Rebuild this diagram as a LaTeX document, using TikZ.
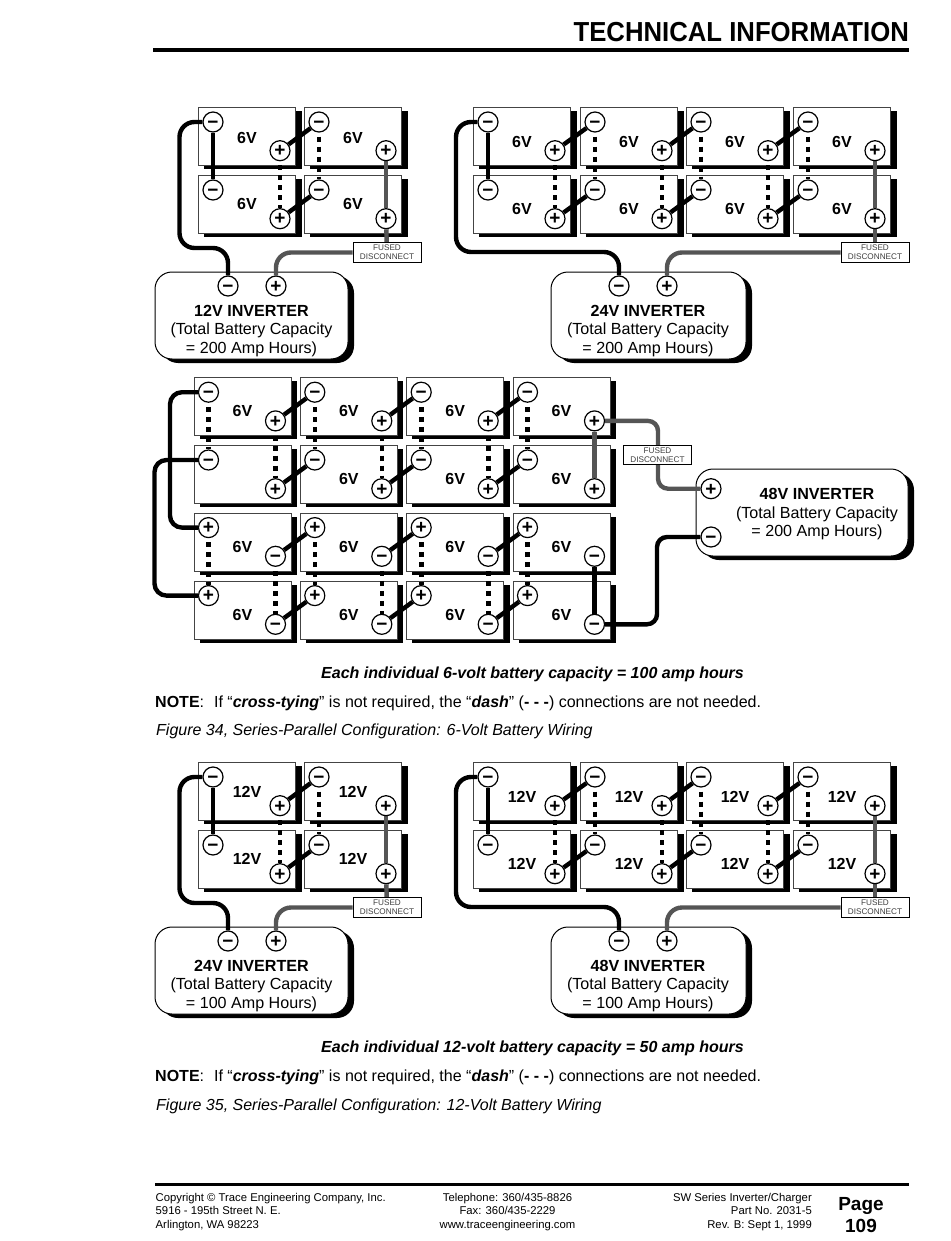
\documentclass[tikz,border=0pt]{standalone}
\usepackage{fontspec}
\setmainfont{Liberation Sans}
\newfontfamily\titlefont[FakeStretch=0.935]{Liberation Sans}
\pgfdeclarelayer{bg}\pgfdeclarelayer{wire}\pgfsetlayers{bg,wire,main}
\definecolor{wiregrey}{HTML}{555555}
\definecolor{edgegrey}{HTML}{444444}
\newcommand\fs[2]{\fontsize{#1}{#2}\selectfont}
\newcommand\mn{\textbf{−}}
\newcommand\pl{\textbf{+}}
\tikzset{
 batbox/.style={draw=edgegrey,line width=0.9pt,fill=white,anchor=north west,minimum width=97pt,minimum height=58pt,inner sep=0pt},
 batshadow/.style={fill=black},
 term/.style={circle,draw=black,line width=1.2pt,fill=white,minimum size=20pt,inner sep=0pt,font=\fs{19}{19},text height=12.6pt,text depth=0pt},
 vlabel/.style={font=\fs{16}{18}\bfseries,inner sep=0pt},
 xwire/.style={line width=4.4pt,black,rounded corners=15pt},
 gwire/.style={line width=4.4pt,wiregrey,rounded corners=15pt},
 xlink/.style={line width=4.4pt,black},
 xdots/.style={line width=4.6pt,black,dash pattern=on 5pt off 5pt,dash phase=6pt},
 fused/.style={draw=black,line width=0.9pt,fill=white,minimum width=68pt,minimum height=19.5pt,inner sep=0pt,align=center,font=\fs{8.2}{9.2},text=black!75},
 invbox/.style={draw=black,line width=1pt,fill=white,rounded corners=17pt},
 invshadow/.style={fill=black,rounded corners=17pt},
 invtext/.style={align=center,inner sep=0pt,font=\fs{16.1}{18.5}},
 plain/.style={inner sep=0pt,anchor=base west},
}
% name x y label labeloffset leftsign rightsign
\newcommand\batt[7]{%
 \begin{pgfonlayer}{bg}
  \fill[batshadow] ({#2+6},{#3+4}) rectangle ({#2+103.5},{#3+62});
  \node[batbox] (#1) at ({#2},{#3}) {};
 \end{pgfonlayer}
 \if\relax\detokenize{#4}\relax\else\node[vlabel] (#1-v) at ({#2+49},{#3+#5+0.7}) {#4};\fi
 \node[term] (#1-l) at ({#2+15},{#3+15}) {#6};
 \node[term] (#1-r) at ({#2+82},{#3+43.7}) {#7};
}
% name x1 y1 x2 y2
\newcommand\inv[5]{%
 \begin{pgfonlayer}{bg}
  \fill[invshadow] ({#2+6},{#3+4}) rectangle ({#4+6},{#5+4});
  \draw[invbox] ({#2},{#3}) rectangle ({#4},{#5}) coordinate (#1);
 \end{pgfonlayer}
}
% prefix dy label off1 off2 invname amp
\newcommand\leftbank[7]{%
 \foreach \c/\x in {1/198,2/304}{\foreach \r/\y/\o in {1/107/#4,2/175/#5}{\batt{#1\r\c}{\x}{\y+#2}{#3}{\o}{\mn}{\pl}}}
 \inv{#1box}{155}{272+#2}{348}{359+#2}
 \node[term] (#1im) at (228,{286+#2}) {\mn};
 \node[term] (#1ip) at (276,{286+#2}) {\pl};
 \node[invtext] (#1it) at (251.5,{331+#2}) {\textbf{#6 INVERTER}\\(Total Battery Capacity\\= #7 Amp Hours)};
 \node[fused] (#1fd) at (387,{252.5+#2}) {FUSED\\DISCONNECT};
 \begin{pgfonlayer}{wire}
  \foreach \r in {1,2}{\draw[xlink] (#1\r1-r) -- (#1\r2-l);}
  \draw[xdots] (#112-l) -- (#122-l);
  \draw[xdots] (#111-r) -- (#121-r);
  \draw[xlink] (#111-l) -- (#121-l);
  \draw[gwire] (#112-r) -- (#122-r);
  \draw[gwire] (#122-r) -- (#1fd);
  \draw[xwire] (#111-l) -- (179.5,{122+#2}) -- (179.5,{248+#2}) -- (228,{248+#2}) -- (#1im);
  \draw[gwire] (#1ip) -- (276,{252.5+#2}) -- (#1fd.west);
 \end{pgfonlayer}
}
\newcommand\rightbank[7]{%
 \foreach \c/\x in {1/473,2/580,3/686,4/793}{\foreach \r/\y/\o in {1/107/#4,2/175/#5}{\batt{#1\r\c}{\x}{\y+#2}{#3}{\o}{\mn}{\pl}}}
 \inv{#1box}{551}{272+#2}{746}{359+#2}
 \node[term] (#1im) at (619,{286+#2}) {\mn};
 \node[term] (#1ip) at (667,{286+#2}) {\pl};
 \node[invtext] (#1it) at (648,{331+#2}) {\textbf{#6 INVERTER}\\(Total Battery Capacity\\= #7 Amp Hours)};
 \node[fused] (#1fd) at (875,{252.5+#2}) {FUSED\\DISCONNECT};
 \begin{pgfonlayer}{wire}
  \foreach \r in {1,2}{\foreach \c/\d in {1/2,2/3,3/4}{\draw[xlink] (#1\r\c-r) -- (#1\r\d-l);}}
  \foreach \c in {2,3,4}{\draw[xdots] (#11\c-l) -- (#12\c-l);}
  \foreach \c in {1,2,3}{\draw[xdots] (#11\c-r) -- (#12\c-r);}
  \draw[xlink] (#111-l) -- (#121-l);
  \draw[gwire] (#114-r) -- (#124-r);
  \draw[gwire] (#124-r) -- (#1fd);
  \draw[xwire] (#111-l) -- (456,{122+#2}) -- (456,{252+#2}) -- (619,{252+#2}) -- (#1im);
  \draw[gwire] (#1ip) -- (667,{252.5+#2}) -- (#1fd.west);
 \end{pgfonlayer}
}
\newcommand\notelines[6]{%
 \node[inner sep=0pt,font=\fs{16.03}{18}\bfseries\itshape,anchor=base] (#1a) at (532.5,#2) {Each individual #5-volt battery capacity = #6 amp hours};
 \node[plain,font=\fs{16.03}{18}] (#1b) at (155,#3) {\textbf{NOTE}:\ \ \kern1pt If “\textbf{\textit{cross-tying}}” is not required, the “\textbf{\textit{dash}}” (\textbf{- - -}) connections are not needed.};
 \node[plain,font=\fs{16}{18}\itshape] (#1c) at (156,#4) {Figure #1, Series-Parallel Configuration: #5-Volt Battery Wiring};
}
\begin{document}
\begin{tikzpicture}[x=1pt,y=-1pt]
\useasboundingbox (0,0) rectangle (950,1241);
% header
\node[inner sep=0pt,anchor=base east,font=\fs{27.5}{30}\titlefont\bfseries] (title) at (909,42) {TECHNICAL INFORMATION};
\coordinate (hl) at (153,50.5); \coordinate (hr) at (909,50.5);
\draw[line width=4pt] (hl) -- (hr);
% top banks
\leftbank{a}{0}{6V}{30}{28}{12V}{200}
\rightbank{b}{0}{6V}{34}{33}{24V}{200}
% 48V bank
\foreach \c/\x in {1/193.5,2/299.8,3/406.2,4/512.5}{
 \batt{c1\c}{\x}{377.2}{6V}{33.5}{\mn}{\pl}
 \batt{c3\c}{\x}{512.6}{6V}{33.5}{\pl}{\mn}
 \batt{c4\c}{\x}{580.6}{6V}{33.5}{\pl}{\mn}
}
\foreach \c/\x in {2/299.8,3/406.2,4/512.5}{\batt{c2\c}{\x}{445}{6V}{33.5}{\mn}{\pl}}
\batt{c21}{193.5}{445}{}{0}{\mn}{\pl}
\inv{cbox}{696}{469}{908}{556}
\node[term] (cip) at (711,488.7) {\pl};
\node[term] (cim) at (711,537) {\mn};
\node[invtext] (cit) at (817,514.5) {\textbf{48V INVERTER}\\(Total Battery Capacity\\= 200 Amp Hours)};
\node[fused] (cfd) at (657.5,455) {FUSED\\DISCONNECT};
\begin{pgfonlayer}{wire}
 \foreach \r in {1,2,3,4}{\foreach \c/\d in {1/2,2/3,3/4}{\draw[xlink] (c\r\c-r) -- (c\r\d-l);}}
 \foreach \c in {1,2,3,4}{\draw[xdots] (c1\c-l) -- (c2\c-l); \draw[xdots] (c3\c-l) -- (c4\c-l);}
 \foreach \c in {1,2,3}{\draw[xdots] (c1\c-r) -- (c2\c-r); \draw[xdots] (c3\c-r) -- (c4\c-r);}
 \draw[gwire] (c14-r) -- (c24-r);
 \draw[xlink] (c34-r) -- (c44-r);
 \draw[xwire,rounded corners=12pt] (c11-l) -- (170,392.2) -- (170,527.6) -- (c31-l);
 \draw[xwire,rounded corners=12pt] (c21-l) -- (154.5,460) -- (154.5,595.6) -- (c41-l);
 \draw[gwire,rounded corners=10pt] (c14-r) -- (658,420.9) -- (658,488.7) -- (cip);
 \draw[xwire,rounded corners=10pt] (c44-r) -- (657,624.3) -- (657,537) -- (cim);
\end{pgfonlayer}
\notelines{34}{678.5}{707}{735}{6}{100}
% figure 35
\leftbank{d}{655}{12V}{29}{28}{24V}{100}
\rightbank{e}{655}{12V}{34}{33}{48V}{100}
\notelines{35}{1052.5}{1081}{1110}{12}{50}
% footer
\coordinate (fl) at (155,1184.5); \coordinate (fr) at (909,1184.5);
\draw[line width=2.4pt] (fl) -- (fr);
\node[plain,font=\fs{11.3}{13.5},align=left,anchor=north west] (f1) at (155.5,1193) {Copyright © Trace Engineering Company, Inc.\\5916 - 195th Street N. E.\\Arlington, WA 98223};
\node[inner sep=0pt,font=\fs{11.3}{13.5},align=center,anchor=north] (f2) at (507.5,1193) {Telephone: 360/435-8826\\Fax: 360/435-2229\\www.traceengineering.com};
\node[inner sep=0pt,font=\fs{11.3}{13.5},align=right,anchor=north east] (f3) at (812,1193) {SW Series Inverter/Charger\\Part No. 2031-5\\Rev. B: Sept 1, 1999};
\node[inner sep=0pt,font=\fs{19}{22}\bfseries,align=center,anchor=north] (f4) at (861,1197) {Page\\109};
\end{tikzpicture}
\end{document}
